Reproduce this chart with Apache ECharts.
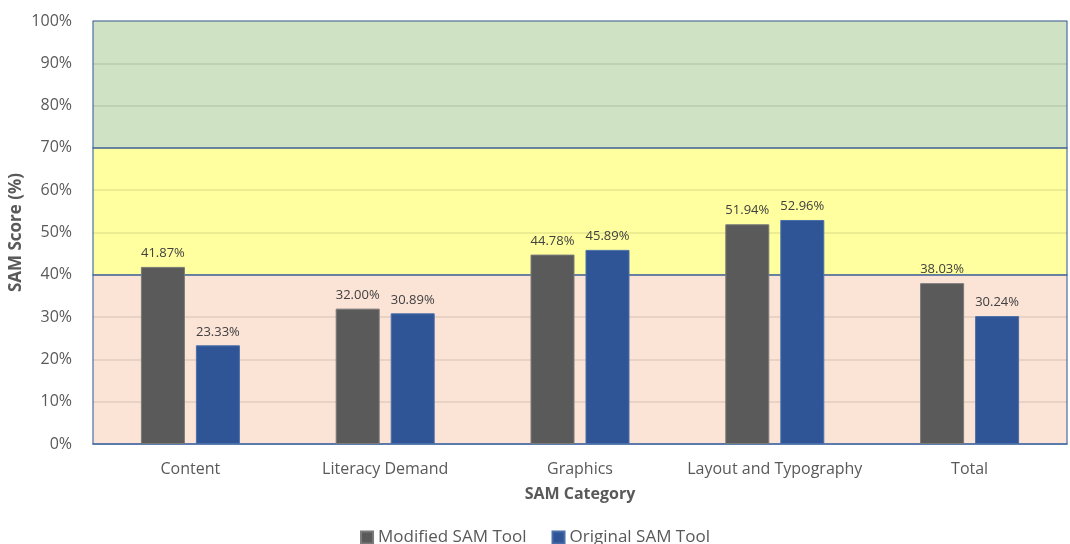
<!DOCTYPE html>
<html>
<head>
<meta charset="utf-8">
<script src="https://cdn.jsdelivr.net/npm/echarts@6/dist/echarts.min.js"></script>
<style>
  html, body { margin: 0; padding: 0; background: #fff; }
  #main { width: 1070px; height: 544px; }
</style>
</head>
<body>
<div id="main"></div>
<script>
// categories and values
var categories = ['Content', 'Literacy Demand', 'Graphics', 'Layout and Typography', 'Total'];
var modifiedScores = [41.87, 32.00, 44.78, 51.94, 38.03];
var originalScores = [23.33, 30.89, 45.89, 52.96, 30.24];
var seriesNames = ['Modified SAM Tool', 'Original SAM Tool'];
// score bands shown behind the bars
var bandLimits = [[0, 40], [40, 70], [70, 100]];
var bandColors = ['#FBE3D6', '#FFFF9F', '#CFE2C3'];

var chart = echarts.init(document.getElementById('main'));

var labelStyle = {
	show: true,
	position: 'top',
	distance: 7,
	color: '#404040',
	fontSize: 13,
	fontFamily: 'Open Sans',
	formatter: function(p) {
		return p.value.toFixed(2) + '%';
	}
};

var bands = bandLimits.map(function(b, i) {
	return [{
		yAxis: b[0],
		itemStyle: { color: bandColors[i], borderColor: '#4A6FA8', borderWidth: 1.2 }
	}, {
		yAxis: b[1]
	}];
});

var option = {
	animation: false,
	textStyle: { fontFamily: 'Open Sans' },
	grid: { left: 93, right: 3, top: 21, bottom: 100, outerBoundsMode: 'none' },
	legend: {
		data: seriesNames,
		top: 524,
		left: 'center',
		itemWidth: 12,
		itemHeight: 12,
		itemGap: 25,
		icon: 'rect',
		textStyle: { fontSize: 17, color: '#595959', fontFamily: 'Open Sans' }
	},
	xAxis: {
		type: 'category',
		data: categories,
		name: 'SAM Category',
		nameLocation: 'middle',
		nameGap: 42,
		nameTextStyle: { fontSize: 16, fontWeight: 'bold', color: '#595959' },
		axisLine: { lineStyle: { color: '#4A6FA8', width: 1.5 } },
		axisTick: { show: false },
		axisLabel: { interval: 0, fontSize: 16, color: '#595959', margin: 17 }
	},
	yAxis: {
		type: 'value',
		min: 0,
		max: 100,
		interval: 10,
		name: 'SAM Score (%)',
		nameLocation: 'middle',
		nameGap: 68,
		nameMoveOverlap: false,
		nameTextStyle: { fontSize: 17, fontWeight: 'bold', color: '#595959' },
		axisLabel: { fontSize: 16, color: '#595959', margin: 21, formatter: '{value}%' },
		splitLine: { lineStyle: { color: 'rgba(0,0,0,0.1)', width: 1.5 } }
	},
	series: [{
		name: seriesNames[0],
		type: 'bar',
		data: modifiedScores,
		barWidth: 44,
		barGap: '25%',
		itemStyle: { color: '#5A5A5A', borderColor: '#7A7A7A', borderWidth: 1 },
		label: labelStyle,
		markArea: { silent: true, z: -1, data: bands },
		z: 3
	}, {
		name: seriesNames[1],
		type: 'bar',
		data: originalScores,
		barWidth: 44,
		itemStyle: { color: '#2F5597', borderColor: '#4A6FA8', borderWidth: 1 },
		label: labelStyle,
		z: 3
	}]
};

chart.setOption(option);
</script>
</body>
</html>
